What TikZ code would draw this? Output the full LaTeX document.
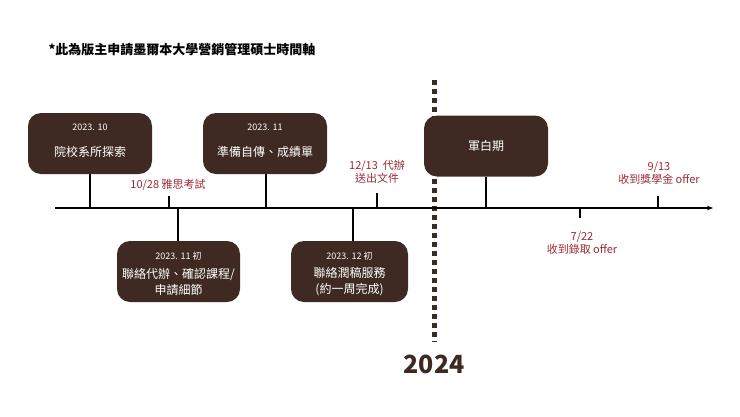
\documentclass[tikz,border=0pt]{standalone}
\usepackage{fontspec}
\setmainfont{Noto Sans CJK TC}
\usetikzlibrary{arrows.meta}
\definecolor{brn}{HTML}{3E2A22}
\definecolor{rd}{HTML}{9A2A35}
\begin{document}
\begin{tikzpicture}[x=1pt,y=-1pt,
  evbox/.style={fill=brn,rounded corners=13pt,text=white,minimum width=124pt,minimum height=61pt,draw=none},
  stem/.style={line width=1.3pt,draw=black},
  lbl/.style={text=rd,font=\fontsize{11}{13}\selectfont,align=center,inner sep=0pt}]
\useasboundingbox (0,0) rectangle (740,416);
\node[anchor=west,font=\bfseries\fontsize{13}{15}\selectfont,text=black] (title) at (45,50) {*此為版主申請墨爾本大學營銷管理碩士時間軸};
\draw[dash pattern=on 5pt off 4pt,line width=5pt,draw=brn] (434,80) -- (434,342);
\node[font=\bfseries\fontsize{25}{28}\selectfont,text=brn] (y24) at (434,364) {2024};
\coordinate (a0) at (55,208); \coordinate (a1) at (713,208);
\draw[line width=1.5pt,-{Stealth[length=6pt]}] (a0) -- (a1);
\node[evbox] (b1) at (90,143.5) {};
\node[evbox] (b2) at (265,143.5) {};
\node[evbox,minimum width=123pt] (b3) at (178.5,271.5) {};
\node[evbox,minimum width=117pt] (b4) at (349.5,271.5) {};
\node[evbox] (b5) at (486,146) {};
\node[text=white,font=\fontsize{9}{11}\selectfont] (t1a) at (90,127) {2023. 10};
\node[text=white,font=\fontsize{12}{14}\selectfont] (t1b) at (90,152) {院校系所探索};
\node[text=white,font=\fontsize{9}{11}\selectfont] (t2a) at (265,127) {2023. 11};
\node[text=white,font=\fontsize{12}{14}\selectfont] (t2b) at (265,152) {準備自傳、成績單};
\node[text=white,font=\fontsize{9}{11}\selectfont] (t3a) at (178.5,256) {2023. 11 初};
\node[text=white,font=\fontsize{12}{16}\selectfont,align=center] (t3b) at (178.5,282) {聯絡代辦、確認課程/\\申請細節};
\node[text=white,font=\fontsize{9}{11}\selectfont] (t4a) at (349.5,256) {2023. 12 初};
\node[text=white,font=\fontsize{12}{16}\selectfont,align=center] (t4b) at (349.5,282) {聯絡潤稿服務\\(約一周完成)};
\node[text=white,font=\fontsize{12}{14}\selectfont] (t5) at (486,146) {軍白期};
\coordinate (s1) at (90,208); \coordinate (s2) at (266,208);
\coordinate (s3) at (178,208); \coordinate (s4) at (353,208); \coordinate (s5) at (486,208);
\draw[stem] (b1.south -| s1) -- (s1);
\draw[stem] (b2.south -| s2) -- (s2);
\draw[stem] (b3.north -| s3) -- (s3);
\draw[stem] (b4.north -| s4) -- (s4);
\draw[stem] (b5.south -| s5) -- (s5);
\node[lbl] (l1) at (168,185) {10/28 雅思考試};
\node[lbl] (l2) at (377,172) {12/13~ 代辦\\送出文件};
\node[lbl] (l3) at (659,173.5) {9/13\\收到獎學金 offer};
\node[lbl] (l4) at (582,243) {7/22\\收到錄取 offer};
\coordinate (k1) at (169,208); \coordinate (k2) at (377,208);
\coordinate (k3) at (658,208); \coordinate (k4) at (580,208);
\draw[stem] (k1) -- ++(0,-12);
\draw[stem] (k2) -- ++(0,-15);
\draw[stem] (k3) -- ++(0,-12);
\draw[stem] (k4) -- ++(0,10);
\end{tikzpicture}
\end{document}
